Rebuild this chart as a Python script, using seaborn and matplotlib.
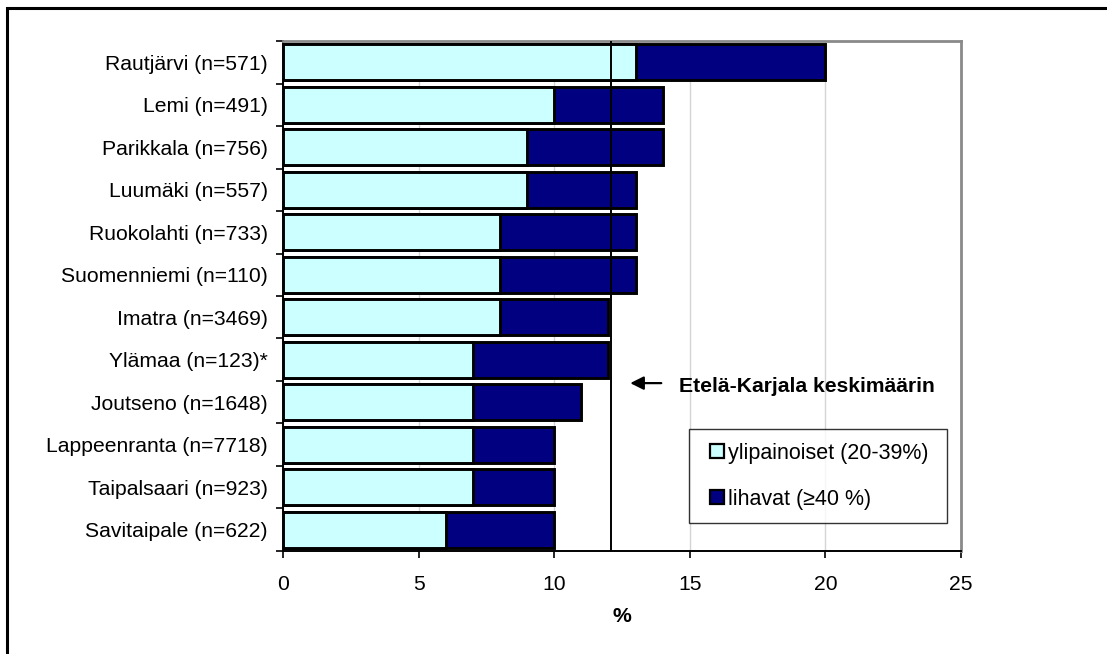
import matplotlib
matplotlib.use("Agg")
import matplotlib.pyplot as plt
import matplotlib.patches as mpatches
from matplotlib.legend_handler import HandlerPatch
import seaborn as sns
import pandas as pd

municipalities = [
    "Rautjärvi (n=571)", "Lemi (n=491)", "Parikkala (n=756)", "Luumäki (n=557)",
    "Ruokolahti (n=733)", "Suomenniemi (n=110)", "Imatra (n=3469)",
    "Ylämaa (n=123)*", "Joutseno (n=1648)", "Lappeenranta (n=7718)",
    "Taipalsaari (n=923)", "Savitaipale (n=622)",
]
overweight = [13, 10, 9, 9, 8, 8, 8, 7, 7, 7, 7, 6]
obese = [7, 4, 5, 4, 5, 5, 4, 5, 4, 3, 3, 4]
region_average = 12.1
x_ticks = [0, 5, 10, 15, 20, 25]

df = pd.DataFrame({
    "kunta": municipalities,
    "ylipainoiset": overweight,
    "lihavat": obese,
})
df["yhteensa"] = df["ylipainoiset"] + df["lihavat"]

light = "#CCFFFF"
dark = "#000080"
fs = 15.2

sns.set_theme(style="white")
plt.rcParams["font.family"] = ["Liberation Sans", "DejaVu Sans"]
plt.rcParams["text.color"] = "black"
plt.rcParams["xtick.color"] = "black"
plt.rcParams["ytick.color"] = "black"
plt.rcParams["axes.labelcolor"] = "black"

fig = plt.figure(figsize=(11.07, 6.54), dpi=100)
ax = fig.add_axes([0.2557, 0.1575, 0.6124, 0.7798])

# stacked bars: total (dark) underneath, overweight (light) on top
sns.barplot(data=df, y="kunta", x="yhteensa", orient="h", color=dark,
            saturation=1, edgecolor="black", linewidth=2.1, width=0.85, ax=ax,
            zorder=2)
sns.barplot(data=df, y="kunta", x="ylipainoiset", orient="h", color=light,
            saturation=1, edgecolor="black", linewidth=2.1, width=0.85, ax=ax,
            zorder=3)

ax.set_xlim(0, 25)
ax.set_ylim(len(municipalities) - 0.5, -0.5)
ax.set_xticks(x_ticks)
ax.set_xticklabels([str(t) for t in x_ticks], fontsize=fs)
ax.tick_params(axis="x", length=5, width=1.2, color="black", direction="out",
               pad=12, bottom=True)
ax.set_yticks(range(len(municipalities)))
ax.set_yticklabels(municipalities, fontsize=fs)
ax.tick_params(axis="y", length=0, pad=11)
# minor ticks at category boundaries
ax.set_yticks([i - 0.5 for i in range(len(municipalities) + 1)], minor=True)
ax.tick_params(axis="y", which="minor", length=5, width=1.2, color="black",
               left=True, direction="out")

ax.set_xlabel("%", fontsize=fs, fontweight="bold", labelpad=10)
ax.set_ylabel("")

ax.grid(axis="x", color="#d4d4d4", linewidth=1.0, zorder=0)
ax.set_axisbelow(True)

for side in ["top", "right"]:
    ax.spines[side].set_color("#8a8a8a")
    ax.spines[side].set_linewidth(2.0)
for side in ["left", "bottom"]:
    ax.spines[side].set_color("black")
    ax.spines[side].set_linewidth(1.4)

# regional average line
ax.axvline(region_average, color="black", linewidth=1.4, zorder=4)
ax.annotate("", xy=(region_average + 0.6, 7.55), xytext=(region_average + 1.95, 7.55),
            arrowprops=dict(arrowstyle="-|>", color="black", lw=1.6,
                            mutation_scale=20), zorder=5)
ax.text(region_average + 2.5, 7.62, "Etelä-Karjala keskimäärin", fontsize=fs,
        fontweight="bold", va="center", ha="left", zorder=5)


def square_handle(legend, orig_handle, xdescent, ydescent, width, height, fontsize):
    # small square swatch placed at the right end of the handle area
    side = height
    return mpatches.Rectangle((width - side - xdescent, -ydescent), side, side)


handles = [
    mpatches.Patch(facecolor=light, edgecolor="black", linewidth=1.6,
                   label="ylipainoiset (20-39%)"),
    mpatches.Patch(facecolor=dark, edgecolor="black", linewidth=1.6,
                   label="lihavat (≥40 %)"),
]
leg = ax.legend(handles=handles, loc="upper left",
                bbox_to_anchor=(0.599, 0.0549, 0.3805, 0.1843),
                mode="expand", fontsize=15.5, frameon=True, fancybox=False,
                handlelength=1.0, handleheight=0.66, handletextpad=0.18,
                labelspacing=1.15, borderpad=0.64, borderaxespad=0,
                handler_map={mpatches.Patch: HandlerPatch(patch_func=square_handle)})
leg.get_frame().set_edgecolor("black")
leg.get_frame().set_linewidth(1.0)
leg.set_zorder(6)

# outer chart border (left and top edges visible)
fig.patches.append(mpatches.Rectangle((6.5 / 1107, -0.1), 1.2, 1 - 7.5 / 654 + 0.1,
                                      transform=fig.transFigure, fill=False,
                                      edgecolor="black", linewidth=2.2))

fig.savefig("out.png", dpi=100)
